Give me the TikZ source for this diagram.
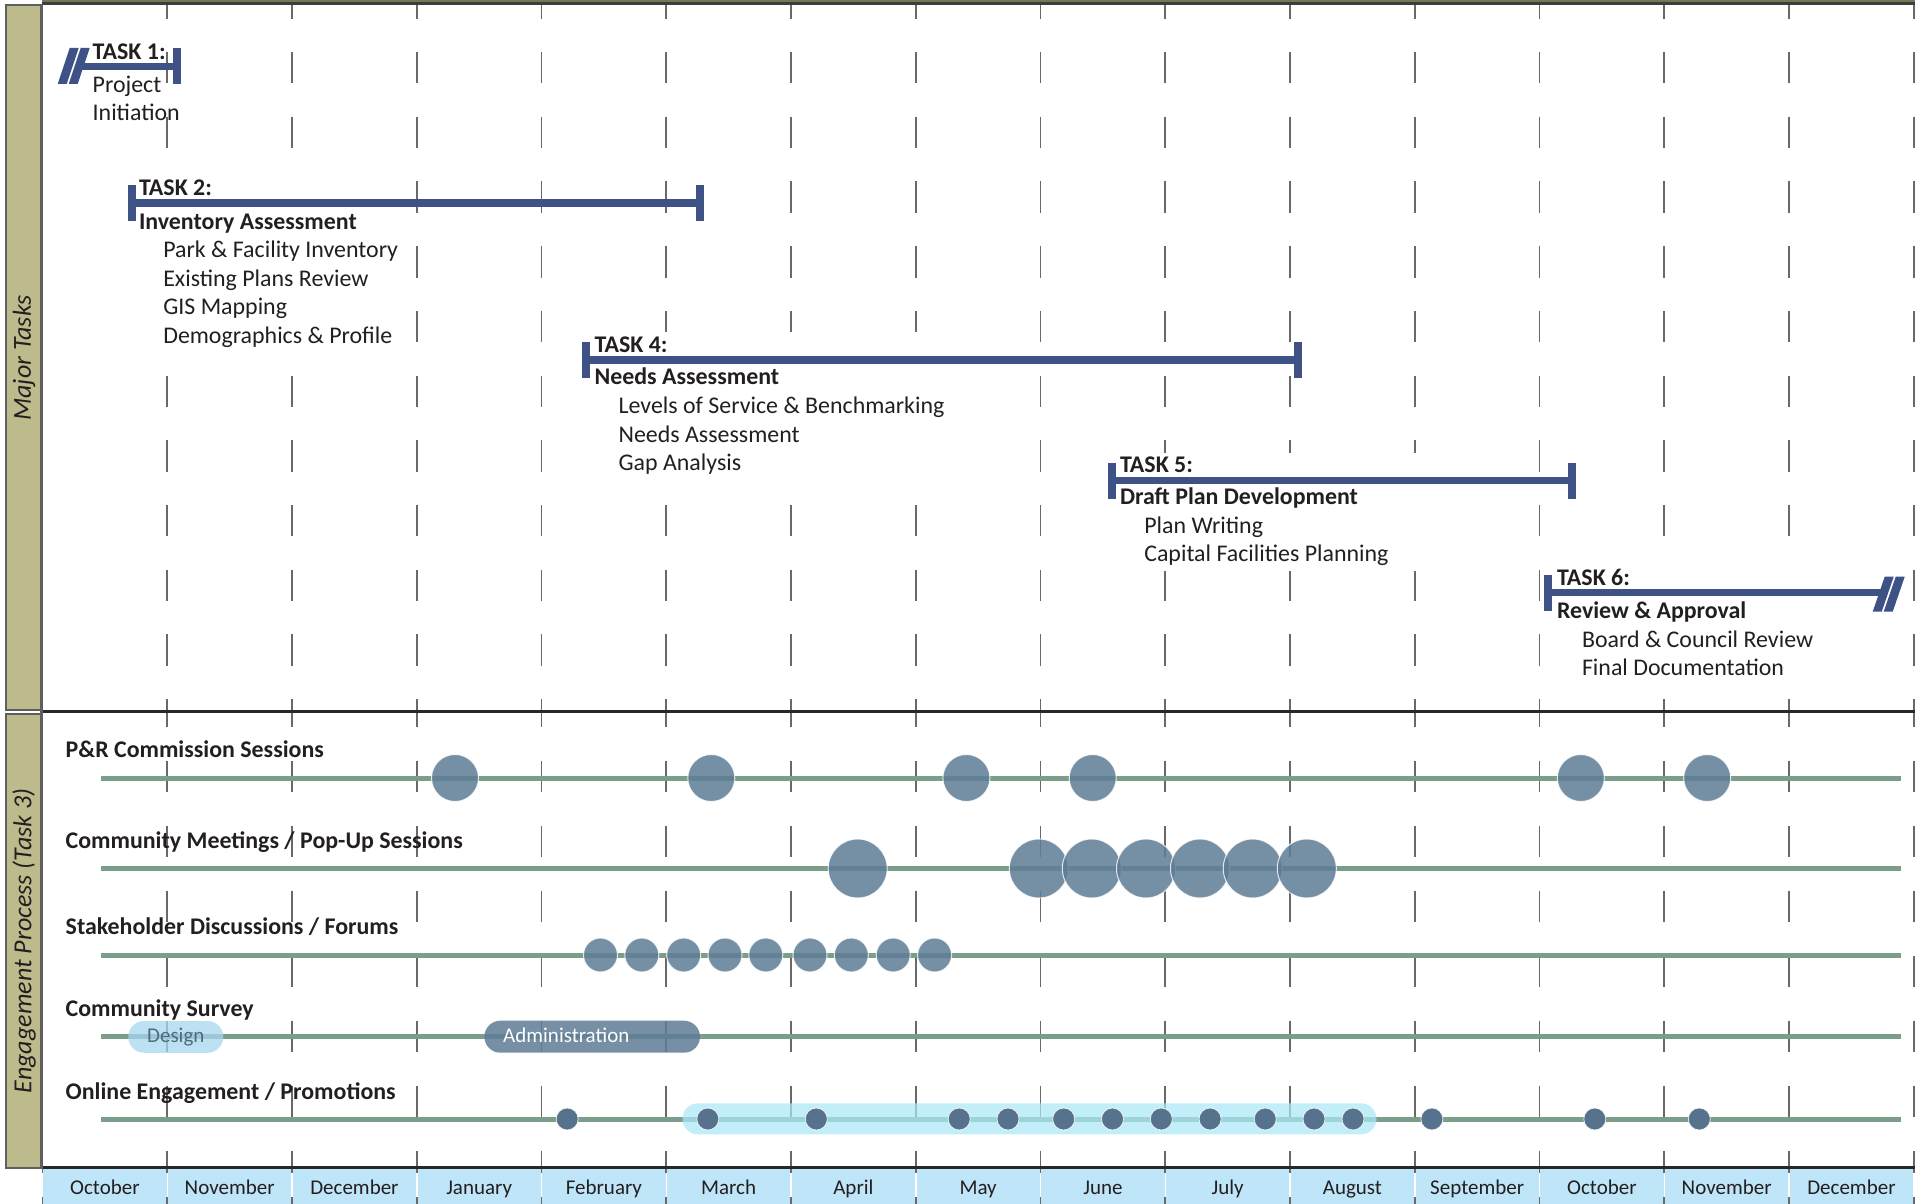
\documentclass[tikz,border=0pt]{standalone}
\usepackage{fontspec}
\setmainfont{Carlito}
\definecolor{taskblue}{RGB}{62,82,134}
\definecolor{gridgray}{RGB}{105,105,105}
\definecolor{khaki}{RGB}{189,187,140}
\definecolor{stripborder}{RGB}{95,95,95}
\definecolor{darkline}{RGB}{40,40,40}
\definecolor{olivetop}{RGB}{120,118,82}
\definecolor{sage}{RGB}{122,158,138}
\definecolor{bubblecol}{RGB}{94,124,150}
\definecolor{dotcol}{RGB}{86,114,140}
\definecolor{bandblue}{RGB}{190,229,248}
\definecolor{pillblue}{RGB}{165,215,240}
\definecolor{adminblue}{RGB}{96,124,150}
\definecolor{designtxt}{RGB}{85,105,125}
\definecolor{textdark}{RGB}{35,31,32}
\begin{document}
\begin{tikzpicture}[x=1pt,y=-1pt,
  txt/.style={anchor=base west, inner sep=0pt, outer sep=0pt, text=textdark},
  hd/.style={txt, font=\fontsize{23.9}{28}\selectfont\bfseries},
  itm/.style={txt, font=\fontsize{23.9}{28}\selectfont},
  mon/.style={anchor=base, inner sep=0pt, font=\fontsize{21}{25}\selectfont, text=textdark},
  side/.style={rotate=90, inner sep=0pt, font=\fontsize{26}{30}\selectfont\itshape, text=textdark},
  taskbar/.style={draw=taskblue, line width=7.3pt},
  capnode/.style={fill=taskblue, inner sep=0pt, minimum width=8pt, minimum height=36pt},
  gridln/.style={draw=gridgray, line width=1.8pt},
  track/.style={draw=sage, line width=5pt},
  mask/.style={fill=white},
  bubble/.style={circle, fill=bubblecol, fill opacity=0.85, draw=white, draw opacity=0.8, line width=1pt, inner sep=0pt},
  dotnode/.style={circle, fill=dotcol, draw=white, draw opacity=0.8, line width=0.8pt, inner sep=0pt, minimum size=22pt},
]
\useasboundingbox (0,0) rectangle (1923,1204);
\fill[white] (0,0) rectangle (1923,1204);

% ---------- grid lines ----------
\begin{scope}
\clip (42,4) rectangle (1923,711);
\foreach \i in {1,...,15}{
  \draw[gridln, dash pattern=on 31.5pt off 33.2pt] ({42.5+124.75*\i},-12.7) -- ({42.5+124.75*\i},720);
}
\end{scope}
\begin{scope}
\clip (42,713) rectangle (1923,1166);
\foreach \i in {1,...,15}{
  \draw[gridln, dash pattern=on 31.5pt off 33.5pt] ({42.5+124.75*\i},695.5) -- ({42.5+124.75*\i},1170);
}
\end{scope}

% ---------- white backgrounds of the task text blocks ----------
\fill[mask] (126,175) rectangle (405,352);
\fill[mask] (580,332) rectangle (955,480);
\fill[mask] (1106,453) rectangle (1425,571);
\fill[mask] (1541,566) rectangle (1820,685);

% ---------- month band ----------
\fill[bandblue] (42.5,1168) rectangle (1913.5,1204);
\foreach \i in {0,...,15}{
  \draw[white, line width=1.5pt] ({42.5+124.75*\i},1168) -- ({42.5+124.75*\i},1204);
  \draw[gridln] ({42.5+124.75*\i},1168) -- ({42.5+124.75*\i},1173);
  \draw[gridln] ({42.5+124.75*\i},1197) -- ({42.5+124.75*\i},1204);
}
\foreach \m [count=\k from 0] in {October,November,December,January,February,March,April,May,June,July,August,September,October,November,December}{
  \node[mon] (m\k) at ({104.9+124.75*\k},1194) {\m};
}

% ---------- frame lines ----------
\fill[olivetop] (42,0) rectangle (1915,1.8);
\fill[darkline!90] (42,1.8) rectangle (1915,5);
\draw[darkline, line width=3pt] (42,711.5) -- (1915,711.5);
\draw[darkline, line width=3pt] (42,1167) -- (1915,1167);

% ---------- side strips ----------
\draw[fill=khaki, draw=stripborder, line width=2pt] (6,5) rectangle (41.5,710);
\draw[fill=khaki, draw=stripborder, line width=2pt] (6,714) rectangle (41.5,1168);
\draw[stripborder, line width=3pt] (41.5,4) -- (41.5,1168);
\node[side] (lblmajor) at (24,358) {Major Tasks};
\node[side] (lbleng) at (24,941) {Engagement Process (Task 3)};

% ---------- Task 1 ----------
\fill[taskblue] (57.7,84) -- (66.7,84) -- (78.7,48) -- (69.7,48) -- cycle;
\fill[taskblue] (68.7,84) -- (77.7,84) -- (89.7,48) -- (80.7,48) -- cycle;
\coordinate (t1L) at (80,66.5);
\node[capnode] (t1R) at (177,66.5) {};
\draw[taskbar] (t1L) -- (t1R.center);
\node[capnode] at (177,66.5) {};
\node[hd] (t1h) at (92.7,59.5) {TASK 1:};
\node[itm] (t1a) at (92.7,92.5) {Project};
\node[itm] (t1b) at (92.7,121) {Initiation};

% ---------- Task 2 ----------
\node[hd] (t2h) at (139,196) {TASK 2:};
\node[hd] (t2t) at (139,229) {Inventory Assessment};
\node[itm] (t2a) at (163.3,257.5) {Park \& Facility Inventory};
\node[itm] (t2b) at (163.3,286) {Existing Plans Review};
\node[itm] (t2c) at (163.3,314.5) {GIS Mapping};
\node[itm] (t2d) at (163.3,343) {Demographics \& Profile};
\node[capnode] (t2L) at (132,203) {};
\node[capnode] (t2R) at (699.7,203) {};
\draw[taskbar] (t2L.center) -- (t2R.center);
\node[capnode] at (132,203) {};
\node[capnode] at (699.7,203) {};

% ---------- Task 4 ----------
\node[hd] (t4h) at (594.6,352.5) {TASK 4:};
\node[hd] (t4t) at (594.6,384.5) {Needs Assessment};
\node[itm] (t4a) at (618.6,413.5) {Levels of Service \& Benchmarking};
\node[itm] (t4b) at (618.6,442) {Needs Assessment};
\node[itm] (t4c) at (618.6,470.5) {Gap Analysis};
\node[capnode] (t4L) at (585.5,360) {};
\node[capnode] (t4R) at (1297.6,360) {};
\draw[taskbar] (t4L.center) -- (t4R.center);
\node[capnode] at (585.5,360) {};
\node[capnode] at (1297.6,360) {};

% ---------- Task 5 ----------
\node[hd] (t5h) at (1120,472) {TASK 5:};
\node[hd] (t5t) at (1120,504.5) {Draft Plan Development};
\node[itm] (t5a) at (1144.3,533) {Plan Writing};
\node[itm] (t5b) at (1144.3,561.5) {Capital Facilities Planning};
\node[capnode] (t5L) at (1112,480.5) {};
\node[capnode] (t5R) at (1571.6,480.5) {};
\draw[taskbar] (t5L.center) -- (t5R.center);
\node[capnode] at (1112,480.5) {};
\node[capnode] at (1571.6,480.5) {};

% ---------- Task 6 ----------
\node[hd] (t6h) at (1557,585.5) {TASK 6:};
\node[hd] (t6t) at (1557,618) {Review \& Approval};
\node[itm] (t6a) at (1582,647) {Board \& Council Review};
\node[itm] (t6b) at (1582,675.5) {Final Documentation};
\node[capnode] (t6L) at (1547.5,593) {};
\coordinate (t6R) at (1886,592.5);
\draw[taskbar] (t6L.center |- t6R) -- (t6R);
\node[capnode] at (1547.5,593) {};
\fill[taskblue] (1872.7,611.7) -- (1881.7,611.7) -- (1893.7,576.7) -- (1884.7,576.7) -- cycle;
\fill[taskblue] (1883.7,611.7) -- (1892.7,611.7) -- (1904.7,576.7) -- (1895.7,576.7) -- cycle;

% ---------- Engagement rows ----------
\node[hd] (r1l) at (65.7,757) {P\&R Commission Sessions};
\node[hd] (r2l) at (65.7,848.5) {Community Meetings / Pop-Up Sessions};
\node[hd] (r3l) at (65.7,934.3) {Stakeholder Discussions / Forums};
\node[hd] (r4l) at (65.7,1016) {Community Survey};
\node[hd] (r5l) at (65.7,1099.3) {Online Engagement / Promotions};

\foreach \r/\y in {1/778,2/868.5,3/955,4/1036.5,5/1119}{
  \coordinate (s\r) at (101,\y);
  \coordinate (e\r) at (1900.7,\y);
  \draw[track] (s\r) -- (e\r);
}

% P&R Commission
\foreach \x [count=\k] in {455,711.3,966.4,1092.7,1580.8,1707.2}{
  \node[bubble, minimum size=47pt] (pr\k) at (\x,778) {};
}
% Community meetings
\foreach \x [count=\k] in {857.7,1038.8,1091.8,1146,1200,1252.7,1306.8}{
  \node[bubble, minimum size=59pt] (cm\k) at (\x,868.5) {};
}
% Stakeholder
\foreach \x [count=\k] in {600.5,641.8,683.7,725,765.8,810,851.3,893.2,934.6}{
  \node[bubble, minimum size=34pt] (sh\k) at (\x,955) {};
}
% Community survey
\node[rounded corners=15.8pt, fill=pillblue, fill opacity=0.75, text opacity=1, minimum width=95pt, minimum height=31.7pt, inner sep=0pt,
      font=\fontsize{21}{25}\selectfont, text=designtxt] (design) at (175.8,1036.9) {Design};
\node[rounded corners=16pt, fill=adminblue, fill opacity=0.85, minimum width=215.6pt, minimum height=32pt, inner sep=0pt] (admin) at (592.2,1036.7) {};
\node[anchor=base west, inner sep=0pt, font=\fontsize{21}{25}\selectfont, text=white] (admintxt) at (503,1042.5) {Administration};
% Online engagement
\node[rounded corners=15.5pt, fill=bandblue!90!cyan, fill opacity=0.72, minimum width=694pt, minimum height=31pt, inner sep=0pt] (online) at (1029.5,1118.8) {};
\foreach \x [count=\k] in {567.2,707.8,816.3,959.2,1008,1063.7,1112.5,1161.3,1210.1,1265.2,1314,1353,1431.9,1594.8,1699.3}{
  \node[dotnode] (oe\k) at (\x,1119) {};
}
\end{tikzpicture}
\end{document}
